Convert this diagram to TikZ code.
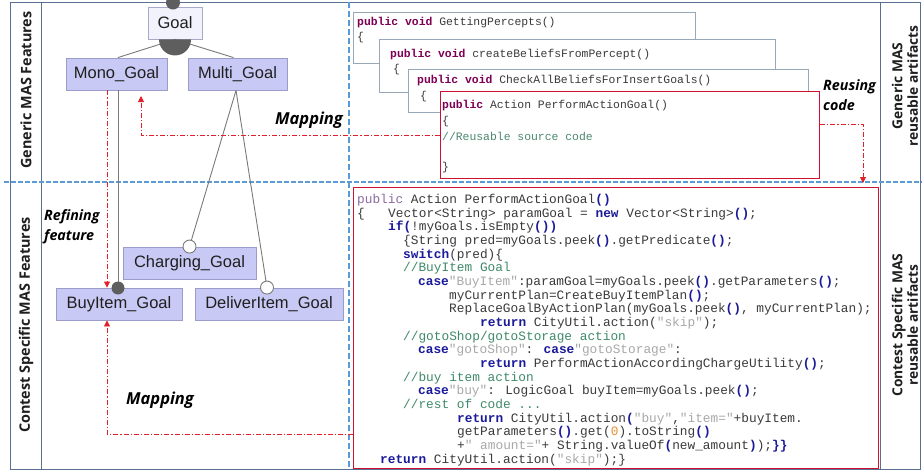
\documentclass[tikz,border=0pt]{standalone}
\usepackage{fontspec}
\setmainfont{Liberation Sans}
\newfontfamily\lblfont{Open Sans}
\newfontfamily\codefont{Liberation Mono}
\usetikzlibrary{arrows.meta,calc}
\definecolor{framec}{HTML}{5A7090}
\definecolor{sepblue}{HTML}{5B9BD5}
\definecolor{featfill}{HTML}{C9C9F5}
\definecolor{featdraw}{HTML}{9C9CCB}
\definecolor{goalfill}{HTML}{F2F2FC}
\definecolor{goaldraw}{HTML}{A8A8C8}
\definecolor{mapred}{HTML}{E0202A}
\definecolor{boxred}{HTML}{D01030}
\definecolor{boxgrey}{HTML}{98A8B8}
\definecolor{kwpurple}{HTML}{7F0055}
\definecolor{pubcol}{HTML}{8A6AA0}
\definecolor{kwblue}{HTML}{1A1A9A}
\definecolor{strgrey}{HTML}{A8A8A8}
\definecolor{cmgreen}{HTML}{3F8A6A}
\definecolor{codegrey}{HTML}{3A3A3A}
\definecolor{connc}{HTML}{7A7A7A}
\definecolor{dotgrey}{HTML}{5E5E5E}
\definecolor{numorange}{HTML}{E89030}
\newcommand{\kwP}[1]{\textcolor{kwpurple}{\bfseries #1}}
\newcommand{\kwB}[1]{\textcolor{kwblue}{\bfseries #1}}
\newcommand{\strg}[1]{\textcolor{strgrey}{#1}}
\newcommand{\cmt}[1]{\textcolor{cmgreen}{#1}}
\newcommand{\numc}[1]{\textcolor{numorange}{#1}}
\newcommand{\pubc}[1]{\textcolor{pubcol}{#1}}
\tikzset{
 feat/.style={draw=featdraw, fill=featfill, line width=0.9pt, minimum height=32pt, inner sep=0pt, text=black!88, font=\fontsize{16.5}{18}\selectfont},
 goalnode/.style={feat, fill=goalfill, draw=goaldraw},
 conn/.style={draw=connc, line width=0.9pt},
 mapline/.style={draw=mapred, line width=0.9pt, dash pattern=on 5pt off 2pt on 1.2pt off 2pt, -{Triangle[length=6pt,width=6pt]}},
 codebox/.style={draw=boxgrey, fill=white, line width=1pt, inner sep=0pt, anchor=north west},
 redbox/.style={codebox, draw=boxred, line width=1.1pt},
 smallcode/.style={anchor=base west, inner sep=0pt, text=codegrey, font=\codefont\fontsize{11.4}{12}\selectfont},
 bigcode/.style={anchor=base west, inner sep=0pt, text=codegrey, font=\codefont\fontsize{12.8}{13}\selectfont},
 sidelbl/.style={font=\lblfont\bfseries\fontsize{14.4}{16}\selectfont, text=black!88, rotate=90, align=center, inner sep=0pt},
 rightlbl/.style={sidelbl, font=\lblfont\bfseries\fontsize{13.8}{15.5}\selectfont},
 note/.style={font=\lblfont\bfseries\itshape\fontsize{14.3}{20.5}\selectfont, text=black, align=left, inner sep=0pt},
 bignote/.style={note, font=\lblfont\bfseries\itshape\fontsize{16.5}{20}\selectfont},
}
\begin{document}
\begin{tikzpicture}[x=1pt,y=-1pt]
\useasboundingbox (0,0) rectangle (922,471);
\fill[white] (0,0) rectangle (922,471);
% frame and separators
\draw[framec, line width=0.9pt] (10,2) rectangle (920,469);
\draw[framec, line width=0.9pt] (41,2) -- (41,469);
\draw[framec, line width=0.9pt] (880,2) -- (880,469);
\draw[sepblue, line width=1.3pt, dash pattern=on 5pt off 2pt] (4,182) -- (922,182);
\draw[sepblue, line width=1.1pt, dash pattern=on 6pt off 3pt] (349,2) -- (349,469);
% side labels
\node[sidelbl] (lg) at (26,90) {Generic MAS Features};
\node[sidelbl] (lc) at (26,325) {Contest Specific MAS Features};
\node[rightlbl] (rg) at (905,86) {Generic MAS\\reusable artifacts};
\node[rightlbl] (rc) at (905,325) {Contest Specific MAS\\reusable artifacts};
% feature model
\node[goalnode, minimum width=54pt] (goal) at (175,23) {Goal};
\node[feat, minimum width=101pt] (mono) at (116.5,74) {Mono\_Goal};
\node[feat, minimum width=99pt] (multi) at (237.5,74) {Multi\_Goal};
\node[feat, minimum width=133pt] (charging) at (189.5,263) {Charging\_Goal};
\node[feat, minimum width=126pt] (buy) at (119,304) {BuyItem\_Goal};
\node[feat, minimum width=148pt] (deliver) at (269,304) {DeliverItem\_Goal};
\coordinate (bdot) at (118,288);
\coordinate (rf) at (107,0);
\draw[conn] (goal.south) -- ($(mono.north)+(1.5,0)$);
\draw[conn] (goal.south) -- ($(multi.north)+(-4,0)$);
\fill[dotgrey] (goal.south) ++(16,0) arc[start angle=0, end angle=180, radius=16] -- cycle;
\draw[conn] ($(goal.north)+(-2,-4)$) -- ++(14,-6);
\fill[dotgrey] ($(goal.north)+(-2,-4)$) circle[radius=7];
\draw[conn] (bdot |- mono.south) -- (bdot);
\fill[dotgrey] (bdot) circle[radius=6.5];
\draw[conn] ($(multi.south)+(-1.5,0)$) -- (charging.north);
\draw[conn] ($(multi.south)+(-1.5,0)$) -- ($(deliver.north)+(-2,0)$);
\filldraw[draw=connc, fill=white, line width=0.9pt] (charging.north) circle[radius=6.5];
\filldraw[draw=connc, fill=white, line width=0.9pt] ($(deliver.north)+(-2,0)$) circle[radius=6.5];
% generic code boxes
\node[codebox, minimum width=342pt, minimum height=51pt] (b1) at (353,12) {};
\node[smallcode] (b1t1) at (357,25) {\kwP{public void} GettingPercepts()};
\node[smallcode] (b1t2) at (357,40) {\{};
\node[codebox, minimum width=396pt, minimum height=53pt] (b2) at (379,39) {};
\node[smallcode] (b2t1) at (390,57) {\kwP{public void} createBeliefsFromPercept()};
\node[smallcode] (b2t2) at (393,72) {\{};
\node[codebox, minimum width=400pt, minimum height=43pt] (b3) at (408,69) {};
\node[smallcode] (b3t1) at (417,83) {\kwP{public void} CheckAllBeliefsForInsertGoals()};
\node[smallcode] (b3t2) at (420,99) {\{};
\node[redbox, minimum width=379pt, minimum height=87pt] (rbox) at (440,91) {};
\node[smallcode] (r1) at (442,108) {\kwP{public} Action PerformActionGoal()};
\node[smallcode] (r2) at (442,124) {\{};
\node[smallcode, text=cmgreen!80!gray] (r3) at (442,140) {//Reusable source code};
\node[smallcode] (r4) at (442,170) {\}};
% contest specific code
\node[redbox, minimum width=525pt, minimum height=281pt] (cbox) at (353,187) {};
\node[bigcode] (c1) at (357,203.3) {\pubc{public} Action PerformActionGoal\kwB{()}};
\node[bigcode] (c2a) at (357,217.0) {\{};
\node[bigcode] (c2) at (388,217.0) {Vector<String> paramGoal = \kwB{new} Vector<String>\kwB{()};};
\node[bigcode] (c3) at (388,230.7) {\kwB{if(}!myGoals.isEmpty\kwB{())}};
\node[bigcode] (c4) at (403,244.3) {\{String pred=myGoals.peek\kwB{()}.getPredicate\kwB{()};};
\node[bigcode] (c5) at (403,258.0) {\kwB{switch}(pred)\{};
\node[bigcode] (c6) at (403,271.7) {\cmt{//BuyItem Goal}};
\node[bigcode] (c7) at (418,285.4) {\kwB{case}\strg{"BuyItem"}:paramGoal=myGoals.peek\kwB{()}.getParameters\kwB{()};};
\node[bigcode] (c8) at (449,299.1) {myCurrentPlan=CreateBuyItemPlan\kwB{()};};
\node[bigcode] (c9) at (449,312.7) {ReplaceGoalByActionPlan(myGoals.peek\kwB{()}, myCurrentPlan);};
\node[bigcode] (c10) at (480,326.4) {\kwB{return} CityUtil.action(\strg{"skip"});};
\node[bigcode] (c11) at (403,340.1) {\cmt{//gotoShop/gotoStorage action}};
\node[bigcode] (c12) at (418,353.8) {\kwB{case}\strg{"gotoShop"}: \kwB{case}\strg{"gotoStorage"}:};
\node[bigcode] (c13) at (480,367.5) {\kwB{return} PerformActionAccordingChargeUtility\kwB{()};};
\node[bigcode] (c14) at (403,381.1) {\cmt{//buy item action}};
\node[bigcode] (c15) at (418,394.8) {\kwB{case}\strg{"buy"}: LogicGoal buyItem=myGoals.peek\kwB{()};};
\node[bigcode] (c16) at (403,408.5) {\cmt{//rest of code ...}};
\node[bigcode] (c17) at (457,422.2) {\kwB{return} CityUtil.action\kwB{(}\strg{"buy"},\strg{"item="}+buyItem.};
\node[bigcode] (c18) at (457,435.9) {getParameters\kwB{()}.get(\numc{0}).toString\kwB{()}};
\node[bigcode] (c19) at (457,449.5) {+\strg{" amount="}+ String.valueOf\kwB{(}new\_amount\kwB{)});\kwB{\}\}}};
\node[bigcode] (c20) at (380,463.2) {\kwB{return} CityUtil.action(\strg{"skip"});\}};
% labels
\node[bignote] (map1) at (309,120) {Mapping};
\node[bignote] (map2) at (160,400) {Mapping};
\node[note, anchor=north west] (refn) at (44,209) {Refining\\feature};
\node[note, anchor=north west] (reus) at (823,79) {Reusing\\code};
% mapping arrows
\coordinate (m1) at (141,96);
\coordinate (lmy) at (0,434);
\coordinate (ruy) at (0,124);
\coordinate (rud) at (863,183);
\draw[mapline] (rbox.west) -| (m1);
\draw[mapline] (rf |- mono.south) -- (rf |- buy.north);
\draw[mapline] (cbox.west |- lmy) -| (rf |- buy.south);
\draw[mapline] (rbox.east |- ruy) -| (rud);
\end{tikzpicture}
\end{document}
